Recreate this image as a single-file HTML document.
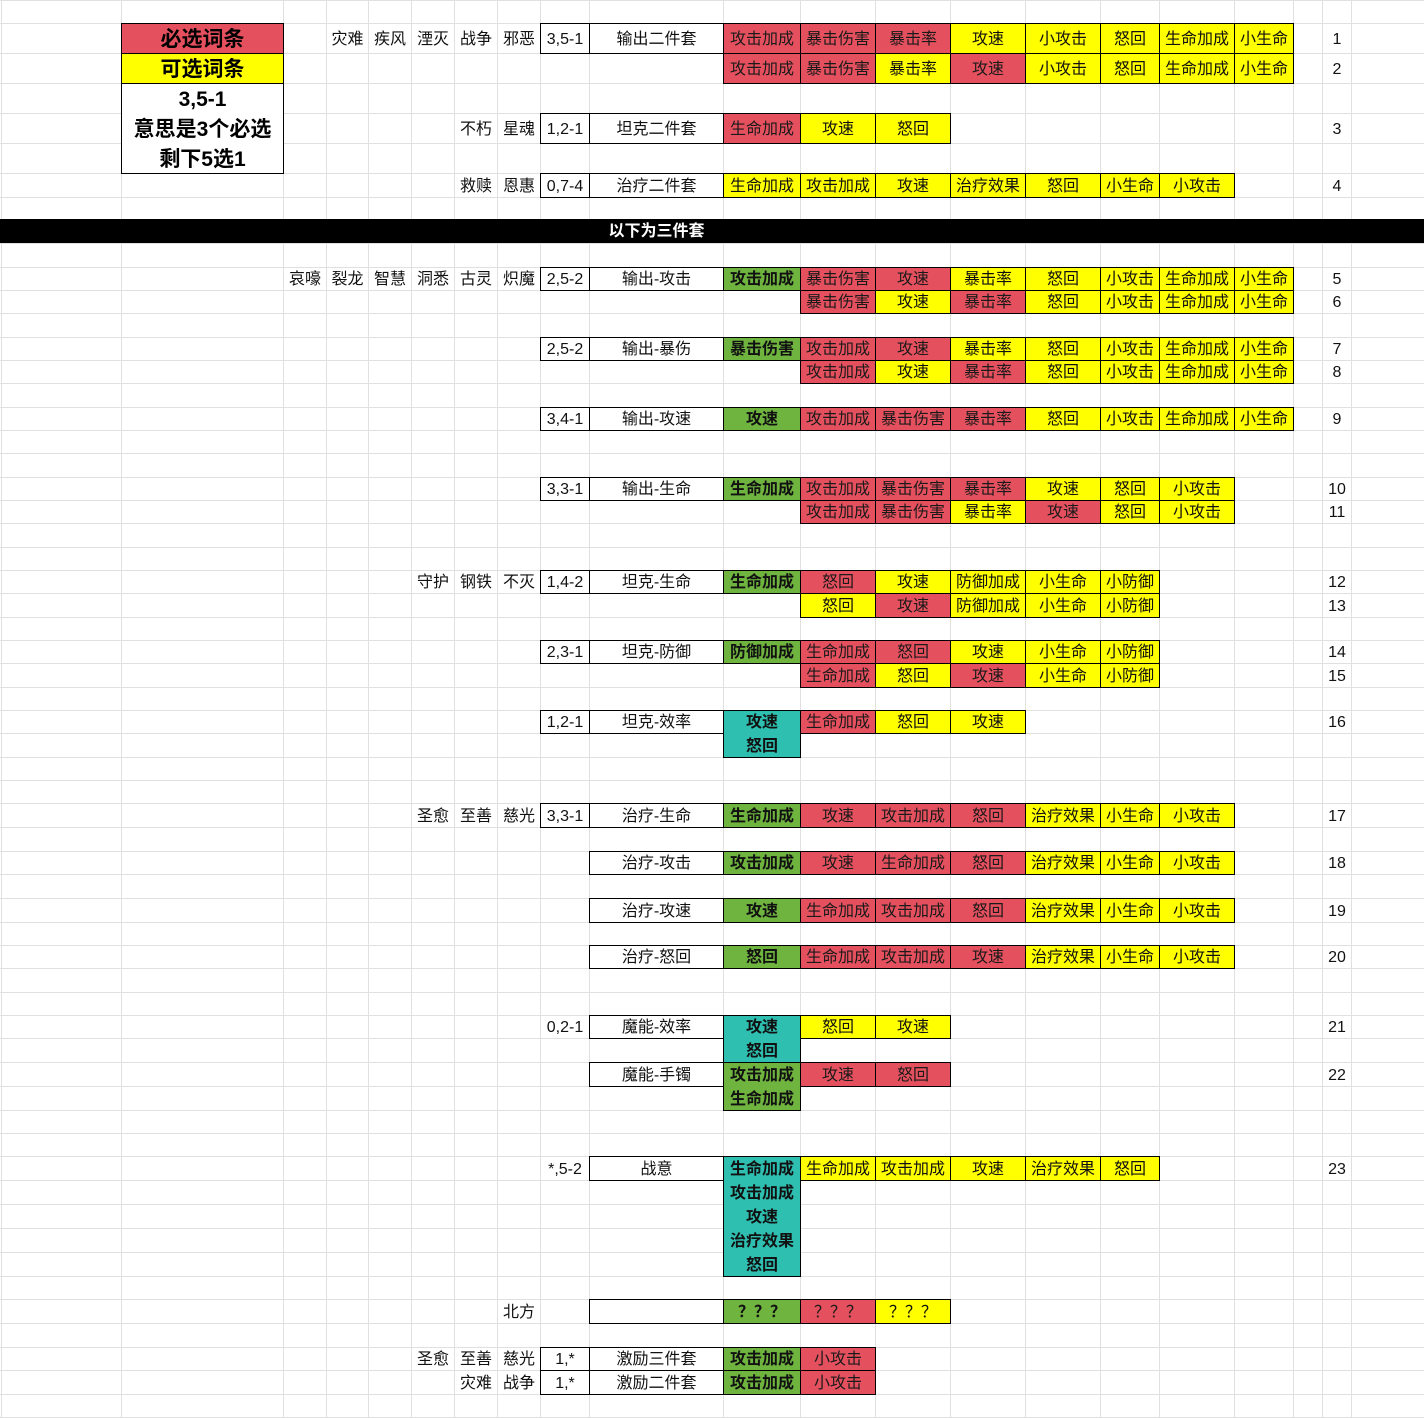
<!DOCTYPE html>
<html><head><meta charset="utf-8">
<style>
html,body{margin:0;padding:0;background:#fff;}
body{width:1424px;height:1418px;position:relative;overflow:hidden;font-family:"Liberation Sans","Noto Sans CJK SC",sans-serif;}
svg.grid{position:absolute;left:0;top:0;}
.row{position:absolute;left:0;width:1424px;}
.c{position:absolute;top:0;height:100%;display:flex;align-items:center;justify-content:center;white-space:nowrap;box-sizing:border-box;font-size:16px;line-height:1;color:#111;padding-top:2px;}
.k{border:1px solid #000;}
.w{background:#fff;}
.r{background:#E5505E;color:#1a1a1a;}
.y{background:#FFFF00;}
.g{background:#6FB43F;font-weight:bold;}
.t{background:#2EBFB1;font-weight:bold;}
.xB{left:121px;width:163px}
.xC{left:283px;width:44px}.xD{left:326px;width:43px}.xE{left:368px;width:44px}.xF{left:411px;width:44px}.xG{left:454px;width:44px}.xH{left:497px;width:44px}
.xI{left:540px;width:50px}.xJ{left:589px;width:135px}.xK{left:723px;width:78px}.xL{left:800px;width:76px}.xM{left:875px;width:76px}.xN{left:950px;width:76px}.xO{left:1025px;width:76px}.xP{left:1100px;width:60px}.xQ{left:1159px;width:76px}.xR{left:1234px;width:60px}.xT{left:1322px;width:30px}
.lg{font-size:21px;font-weight:bold;color:#000;}
.abs{position:absolute;box-sizing:border-box;}
</style></head>
<body>
<svg class="grid" width="1424" height="1418" shape-rendering="crispEdges">
<path stroke="#e0e0e0" stroke-width="1" fill="none" d="
M1.5 0V1418 M121.5 0V1418 M283.5 0V1418 M326.5 0V1418 M368.5 0V1418 M411.5 0V1418 M454.5 0V1418 M497.5 0V1418 M540.5 0V1418 M589.5 0V1418 M723.5 0V1418 M800.5 0V1418 M875.5 0V1418 M950.5 0V1418 M1025.5 0V1418 M1100.5 0V1418 M1159.5 0V1418 M1234.5 0V1418 M1293.5 0V1418 M1322.5 0V1418 M1351.5 0V1418
M0 0.5H1424 M0 23.5H1424 M0 53.5H1424 M0 83.5H1424 M0 113.5H1424 M0 143.5H1424 M0 173.5H1424 M0 197.5H1424 M0 220.5H1424 M0 243.5H1424
M0 267.5H1424 M0 290.5H1424 M0 313.5H1424 M0 337.5H1424 M0 360.5H1424 M0 383.5H1424 M0 407.5H1424 M0 430.5H1424 M0 453.5H1424 M0 477.5H1424
M0 500.5H1424 M0 523.5H1424 M0 547.5H1424 M0 570.5H1424 M0 593.5H1424 M0 617.5H1424 M0 640.5H1424 M0 663.5H1424 M0 687.5H1424 M0 710.5H1424
M0 733.5H1424 M0 757.5H1424 M0 780.5H1424 M0 803.5H1424 M0 827.5H1424 M0 851.5H1424 M0 874.5H1424 M0 898.5H1424 M0 922.5H1424 M0 945.5H1424
M0 968.5H1424 M0 992.5H1424 M0 1015.5H1424 M0 1038.5H1424 M0 1062.5H1424 M0 1086.5H1424 M0 1110.5H1424 M0 1133.5H1424 M0 1156.5H1424 M0 1180.5H1424
M0 1204.5H1424 M0 1228.5H1424 M0 1252.5H1424 M0 1276.5H1424 M0 1299.5H1424 M0 1323.5H1424 M0 1347.5H1424 M0 1370.5H1424 M0 1394.5H1424 M0 1417.5H1424"/>
</svg>

<!-- Legend box -->
<div class="row" style="top:23px;height:31px"><div class="c k r xB lg">必选词条</div></div>
<div class="row" style="top:53px;height:31px"><div class="c k y xB lg">可选词条</div></div>
<div class="abs k w" style="left:121px;top:83px;width:163px;height:91px;border:1px solid #000"></div>
<div class="row" style="top:83px;height:31px"><div class="c xB lg">3,5-1</div></div>
<div class="row" style="top:113px;height:31px"><div class="c xB lg">意思是3个必选</div></div>
<div class="row" style="top:143px;height:31px"><div class="c xB lg">剩下5选1</div></div>

<!-- Row 1 -->
<div class="row" style="top:23px;height:31px">
<div class="c xD">灾难</div><div class="c xE">疾风</div><div class="c xF">湮灭</div><div class="c xG">战争</div><div class="c xH">邪恶</div>
<div class="c k w xI">3,5-1</div><div class="c k w xJ">输出二件套</div>
<div class="c k r xK">攻击加成</div><div class="c k r xL">暴击伤害</div><div class="c k r xM">暴击率</div><div class="c k y xN">攻速</div><div class="c k y xO">小攻击</div><div class="c k y xP">怒回</div><div class="c k y xQ">生命加成</div><div class="c k y xR">小生命</div>
<div class="c xT">1</div>
</div>
<!-- Row 2 -->
<div class="row" style="top:53px;height:31px">
<div class="c k r xK">攻击加成</div><div class="c k r xL">暴击伤害</div><div class="c k y xM">暴击率</div><div class="c k r xN">攻速</div><div class="c k y xO">小攻击</div><div class="c k y xP">怒回</div><div class="c k y xQ">生命加成</div><div class="c k y xR">小生命</div>
<div class="c xT">2</div>
</div>
<!-- Row 3 -->
<div class="row" style="top:113px;height:31px">
<div class="c xG">不朽</div><div class="c xH">星魂</div>
<div class="c k w xI">1,2-1</div><div class="c k w xJ">坦克二件套</div>
<div class="c k r xK">生命加成</div><div class="c k y xL">攻速</div><div class="c k y xM">怒回</div>
<div class="c xT">3</div>
</div>
<!-- Row 4 -->
<div class="row" style="top:173px;height:25px">
<div class="c xG">救赎</div><div class="c xH">恩惠</div>
<div class="c k w xI">0,7-4</div><div class="c k w xJ">治疗二件套</div>
<div class="c k y xK">生命加成</div><div class="c k y xL">攻击加成</div><div class="c k y xM">攻速</div><div class="c k y xN">治疗效果</div><div class="c k y xO">怒回</div><div class="c k y xP">小生命</div><div class="c k y xQ">小攻击</div>
<div class="c xT">4</div>
</div>

<!-- Black bar -->
<div class="abs" style="left:0;top:219px;width:1424px;height:24px;background:#000"></div>
<div class="row" style="top:219px;height:24px"><div class="c xJ" style="color:#fff;font-weight:bold">以下为三件套</div></div>

<!-- Row 5 -->
<div class="row" style="top:267px;height:24px">
<div class="c xC">哀嚎</div><div class="c xD">裂龙</div><div class="c xE">智慧</div><div class="c xF">洞悉</div><div class="c xG">古灵</div><div class="c xH">炽魔</div>
<div class="c k w xI">2,5-2</div><div class="c k w xJ">输出-攻击</div>
<div class="c k g xK">攻击加成</div><div class="c k r xL">暴击伤害</div><div class="c k r xM">攻速</div><div class="c k y xN">暴击率</div><div class="c k y xO">怒回</div><div class="c k y xP">小攻击</div><div class="c k y xQ">生命加成</div><div class="c k y xR">小生命</div>
<div class="c xT">5</div>
</div>
<!-- Row 6 -->
<div class="row" style="top:290px;height:24px">
<div class="c k r xL">暴击伤害</div><div class="c k y xM">攻速</div><div class="c k r xN">暴击率</div><div class="c k y xO">怒回</div><div class="c k y xP">小攻击</div><div class="c k y xQ">生命加成</div><div class="c k y xR">小生命</div>
<div class="c xT">6</div>
</div>
<!-- Row 7 -->
<div class="row" style="top:337px;height:24px">
<div class="c k w xI">2,5-2</div><div class="c k w xJ">输出-暴伤</div>
<div class="c k g xK">暴击伤害</div><div class="c k r xL">攻击加成</div><div class="c k r xM">攻速</div><div class="c k y xN">暴击率</div><div class="c k y xO">怒回</div><div class="c k y xP">小攻击</div><div class="c k y xQ">生命加成</div><div class="c k y xR">小生命</div>
<div class="c xT">7</div>
</div>
<!-- Row 8 -->
<div class="row" style="top:360px;height:24px">
<div class="c k r xL">攻击加成</div><div class="c k y xM">攻速</div><div class="c k r xN">暴击率</div><div class="c k y xO">怒回</div><div class="c k y xP">小攻击</div><div class="c k y xQ">生命加成</div><div class="c k y xR">小生命</div>
<div class="c xT">8</div>
</div>
<!-- Row 9 -->
<div class="row" style="top:407px;height:24px">
<div class="c k w xI">3,4-1</div><div class="c k w xJ">输出-攻速</div>
<div class="c k g xK">攻速</div><div class="c k r xL">攻击加成</div><div class="c k r xM">暴击伤害</div><div class="c k r xN">暴击率</div><div class="c k y xO">怒回</div><div class="c k y xP">小攻击</div><div class="c k y xQ">生命加成</div><div class="c k y xR">小生命</div>
<div class="c xT">9</div>
</div>
<!-- Row 10 -->
<div class="row" style="top:477px;height:24px">
<div class="c k w xI">3,3-1</div><div class="c k w xJ">输出-生命</div>
<div class="c k g xK">生命加成</div><div class="c k r xL">攻击加成</div><div class="c k r xM">暴击伤害</div><div class="c k r xN">暴击率</div><div class="c k y xO">攻速</div><div class="c k y xP">怒回</div><div class="c k y xQ">小攻击</div>
<div class="c xT">10</div>
</div>
<!-- Row 11 -->
<div class="row" style="top:500px;height:24px">
<div class="c k r xL">攻击加成</div><div class="c k r xM">暴击伤害</div><div class="c k y xN">暴击率</div><div class="c k r xO">攻速</div><div class="c k y xP">怒回</div><div class="c k y xQ">小攻击</div>
<div class="c xT">11</div>
</div>
<!-- Row 12 -->
<div class="row" style="top:570px;height:24px">
<div class="c xF">守护</div><div class="c xG">钢铁</div><div class="c xH">不灭</div>
<div class="c k w xI">1,4-2</div><div class="c k w xJ">坦克-生命</div>
<div class="c k g xK">生命加成</div><div class="c k r xL">怒回</div><div class="c k y xM">攻速</div><div class="c k y xN">防御加成</div><div class="c k y xO">小生命</div><div class="c k y xP">小防御</div>
<div class="c xT">12</div>
</div>
<!-- Row 13 -->
<div class="row" style="top:593px;height:25px">
<div class="c k y xL">怒回</div><div class="c k r xM">攻速</div><div class="c k y xN">防御加成</div><div class="c k y xO">小生命</div><div class="c k y xP">小防御</div>
<div class="c xT">13</div>
</div>
<!-- Row 14 -->
<div class="row" style="top:640px;height:24px">
<div class="c k w xI">2,3-1</div><div class="c k w xJ">坦克-防御</div>
<div class="c k g xK">防御加成</div><div class="c k r xL">生命加成</div><div class="c k r xM">怒回</div><div class="c k y xN">攻速</div><div class="c k y xO">小生命</div><div class="c k y xP">小防御</div>
<div class="c xT">14</div>
</div>
<!-- Row 15 -->
<div class="row" style="top:663px;height:25px">
<div class="c k r xL">生命加成</div><div class="c k y xM">怒回</div><div class="c k r xN">攻速</div><div class="c k y xO">小生命</div><div class="c k y xP">小防御</div>
<div class="c xT">15</div>
</div>
<!-- Row 16 -->
<div class="abs k t" style="left:723px;top:710px;width:78px;height:48px"></div>
<div class="row" style="top:710px;height:24px">
<div class="c k w xI">1,2-1</div><div class="c k w xJ">坦克-效率</div>
<div class="c xK" style="font-weight:bold">攻速</div><div class="c k r xL">生命加成</div><div class="c k y xM">怒回</div><div class="c k y xN">攻速</div>
<div class="c xT">16</div>
</div>
<div class="row" style="top:733px;height:25px"><div class="c xK" style="font-weight:bold">怒回</div></div>

<!-- Row 17 -->
<div class="row" style="top:803px;height:25px">
<div class="c xF">圣愈</div><div class="c xG">至善</div><div class="c xH">慈光</div>
<div class="c k w xI">3,3-1</div><div class="c k w xJ">治疗-生命</div>
<div class="c k g xK">生命加成</div><div class="c k r xL">攻速</div><div class="c k r xM">攻击加成</div><div class="c k r xN">怒回</div><div class="c k y xO">治疗效果</div><div class="c k y xP">小生命</div><div class="c k y xQ">小攻击</div>
<div class="c xT">17</div>
</div>
<!-- Row 18 -->
<div class="row" style="top:851px;height:24px">
<div class="c k w xJ">治疗-攻击</div>
<div class="c k g xK">攻击加成</div><div class="c k r xL">攻速</div><div class="c k r xM">生命加成</div><div class="c k r xN">怒回</div><div class="c k y xO">治疗效果</div><div class="c k y xP">小生命</div><div class="c k y xQ">小攻击</div>
<div class="c xT">18</div>
</div>
<!-- Row 19 -->
<div class="row" style="top:898px;height:25px">
<div class="c k w xJ">治疗-攻速</div>
<div class="c k g xK">攻速</div><div class="c k r xL">生命加成</div><div class="c k r xM">攻击加成</div><div class="c k r xN">怒回</div><div class="c k y xO">治疗效果</div><div class="c k y xP">小生命</div><div class="c k y xQ">小攻击</div>
<div class="c xT">19</div>
</div>
<!-- Row 20 -->
<div class="row" style="top:945px;height:24px">
<div class="c k w xJ">治疗-怒回</div>
<div class="c k g xK">怒回</div><div class="c k r xL">生命加成</div><div class="c k r xM">攻击加成</div><div class="c k r xN">攻速</div><div class="c k y xO">治疗效果</div><div class="c k y xP">小生命</div><div class="c k y xQ">小攻击</div>
<div class="c xT">20</div>
</div>
<!-- Row 21 -->
<div class="abs k t" style="left:723px;top:1015px;width:78px;height:48px"></div>
<div class="row" style="top:1015px;height:24px">
<div class="c xI">0,2-1</div><div class="c k w xJ">魔能-效率</div>
<div class="c xK" style="font-weight:bold">攻速</div><div class="c k y xL">怒回</div><div class="c k y xM">攻速</div>
<div class="c xT">21</div>
</div>
<div class="row" style="top:1038px;height:25px"><div class="c xK" style="font-weight:bold">怒回</div></div>
<!-- Row 22 -->
<div class="abs k g" style="left:723px;top:1062px;width:78px;height:49px"></div>
<div class="row" style="top:1062px;height:25px">
<div class="c k w xJ">魔能-手镯</div>
<div class="c xK" style="font-weight:bold">攻击加成</div><div class="c k r xL">攻速</div><div class="c k r xM">怒回</div>
<div class="c xT">22</div>
</div>
<div class="row" style="top:1086px;height:25px"><div class="c xK" style="font-weight:bold">生命加成</div></div>
<!-- Row 23 -->
<div class="abs k t" style="left:723px;top:1156px;width:78px;height:121px"></div>
<div class="row" style="top:1156px;height:25px">
<div class="c xI">*,5-2</div><div class="c k w xJ">战意</div>
<div class="c xK" style="font-weight:bold">生命加成</div><div class="c k y xL">生命加成</div><div class="c k y xM">攻击加成</div><div class="c k y xN">攻速</div><div class="c k y xO">治疗效果</div><div class="c k y xP">怒回</div>
<div class="c xT">23</div>
</div>
<div class="row" style="top:1180px;height:25px"><div class="c xK" style="font-weight:bold">攻击加成</div></div>
<div class="row" style="top:1204px;height:25px"><div class="c xK" style="font-weight:bold">攻速</div></div>
<div class="row" style="top:1228px;height:25px"><div class="c xK" style="font-weight:bold">治疗效果</div></div>
<div class="row" style="top:1252px;height:25px"><div class="c xK" style="font-weight:bold">怒回</div></div>
<!-- 北方 -->
<div class="row" style="top:1299px;height:25px">
<div class="c xH">北方</div>
<div class="c k w xJ"></div>
<div class="c k g xK">？？？</div><div class="c k r xL">？？？</div><div class="c k y xM">？？？</div>
</div>
<!-- 激励 -->
<div class="row" style="top:1347px;height:24px">
<div class="c xF">圣愈</div><div class="c xG">至善</div><div class="c xH">慈光</div>
<div class="c k w xI">1,*</div><div class="c k w xJ">激励三件套</div>
<div class="c k g xK">攻击加成</div><div class="c k r xL">小攻击</div>
</div>
<div class="row" style="top:1370px;height:25px">
<div class="c xG">灾难</div><div class="c xH">战争</div>
<div class="c k w xI">1,*</div><div class="c k w xJ">激励二件套</div>
<div class="c k g xK">攻击加成</div><div class="c k r xL">小攻击</div>
</div>
</body></html>
